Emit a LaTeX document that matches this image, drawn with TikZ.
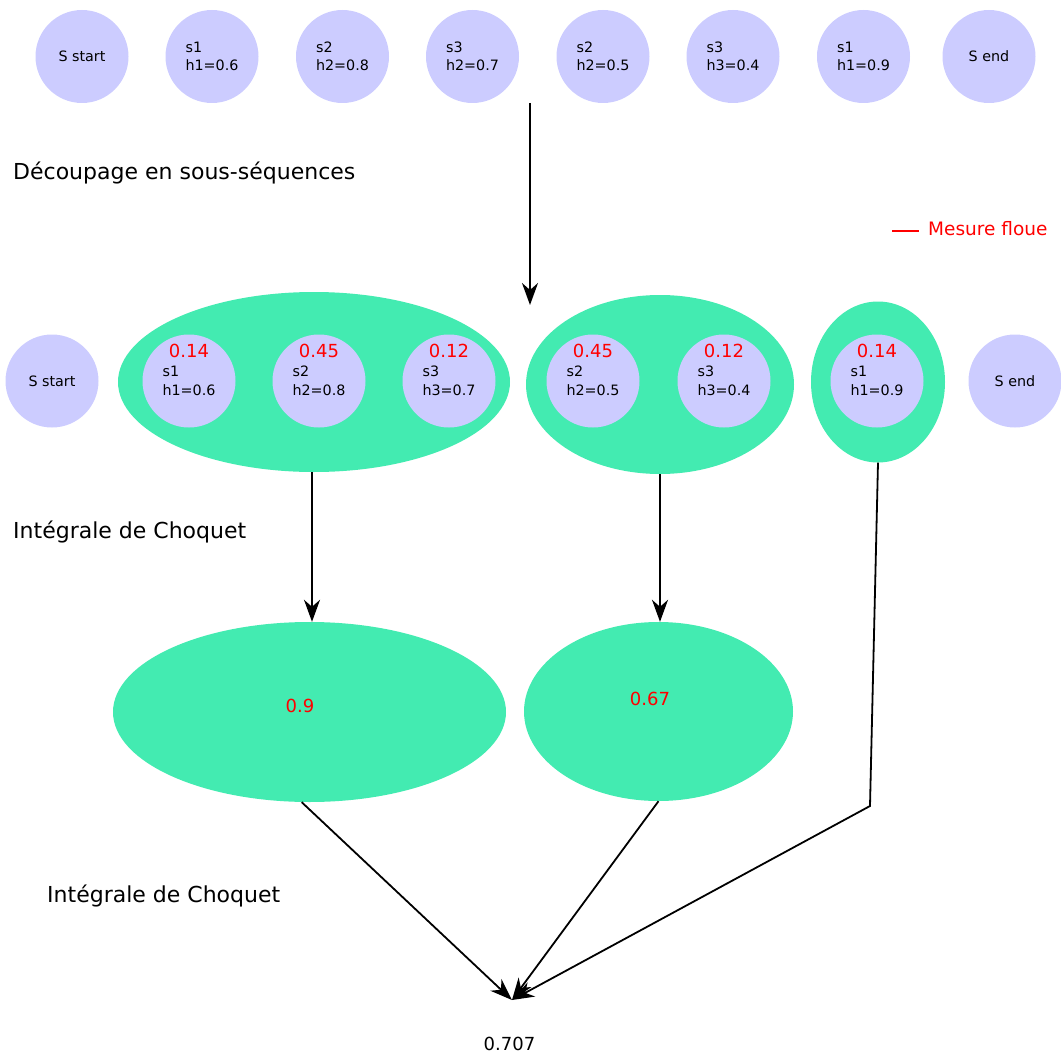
\documentclass[tikz,border=0pt]{standalone}
\usepackage{fontspec}
\setmainfont{DejaVu Sans}
\usetikzlibrary{shapes.geometric,arrows.meta,calc}
\definecolor{lav}{RGB}{204,204,255}
\definecolor{grn}{RGB}{67,235,177}
\begin{document}
\begin{tikzpicture}[x=1pt,y=-1pt,
  st/.style={circle,fill=lav,minimum size=93pt,inner sep=0pt,align=left,font=\fontsize{14.3}{18.5}\selectfont},
  grp/.style={ellipse,fill=grn,inner sep=0pt},
  wt/.style={text=red,font=\fontsize{18}{22}\selectfont,inner sep=0pt},
  lbl/.style={anchor=west,font=\fontsize{22}{26}\selectfont,inner sep=0pt},
  arr/.style={-{Stealth[length=22pt,width=16pt,inset=7pt]},line width=1.8pt}
]
\useasboundingbox (0,0) rectangle (1061,1057);

% top row
\node[st] (t0) at (82,56.5) {S start};
\node[st] (t1) at (212,56.5) {s1\\h1=0.6};
\node[st] (t2) at (342.5,56.5) {s2\\h2=0.8};
\node[st] (t3) at (472.5,56.5) {s3\\h2=0.7};
\node[st] (t4) at (603,56.5) {s2\\h2=0.5};
\node[st] (t5) at (733,56.5) {s3\\h3=0.4};
\node[st] (t6) at (863.5,56.5) {s1\\h1=0.9};
\node[st] (t7) at (989,56.5) {S end};

% labels
\node[lbl] (l1) at (13,173) {Découpage en sous-séquences};
\node[lbl] (l2) at (13,532) {Intégrale de Choquet};
\node[lbl] (l3) at (47,896) {Intégrale de Choquet};

% legend
\draw[red,line width=1.5pt] (892,231) -- (919,231);
\node[anchor=west,text=red,font=\fontsize{18.5}{22}\selectfont,inner sep=0pt] (leg) at (928,229) {Mesure floue};

% middle row groups
\node[grp,minimum width=392pt,minimum height=180pt] (e1) at (314,382) {};
\node[grp,minimum width=268pt,minimum height=179pt] (e2) at (660,384.5) {};
\node[grp,minimum width=134pt,minimum height=161pt] (e3) at (878,382) {};

\node[st] (m0) at (52,381) {S start};
\node[st] (m1) at (189,381) {s1\\h1=0.6};
\node[st] (m2) at (319,381) {s2\\h2=0.8};
\node[st] (m3) at (449,381) {s3\\h3=0.7};
\node[st] (m4) at (593,381) {s2\\h2=0.5};
\node[st] (m5) at (724,381) {s3\\h3=0.4};
\node[st] (m6) at (877,381) {s1\\h1=0.9};
\node[st] (m7) at (1015,381) {S end};

\node[wt] (w1) at (189,351) {0.14};
\node[wt] (w2) at (319,351) {0.45};
\node[wt] (w3) at (449,351) {0.12};
\node[wt] (w4) at (593,351) {0.45};
\node[wt] (w5) at (724,351) {0.12};
\node[wt] (w6) at (877,351) {0.14};

% bottom groups
\node[grp,minimum width=393pt,minimum height=180pt] (b1) at (309.5,712) {};
\node[grp,minimum width=269pt,minimum height=179pt] (b2) at (658.5,711.5) {};
\node[wt] (v1) at (300,706) {0.9};
\node[wt] (v2) at (650,699) {0.67};

\node[font=\fontsize{18}{22}\selectfont,inner sep=0pt] (res) at (509.5,1044) {0.707};

% connectors
\coordinate (cutTop) at (530,103);
\coordinate (cutBot) at (530,305);
\coordinate (bend) at (870,806);
\coordinate (sink) at (512,1000);
\draw[arr] (cutTop) -- (cutBot);
\draw[arr] ($(e1.south)+(-2,0)$) -- ($(e1.south |- b1.north)+(-2,0)$);
\draw[arr] (e2.south) -- (e2.south |- b2.north);
\draw[arr] (e3.south) -- (bend) -- (sink);
\draw[arr] (b1.-95) -- (sink);
\draw[arr] (b2.south) -- (sink);
\end{tikzpicture}
\end{document}
